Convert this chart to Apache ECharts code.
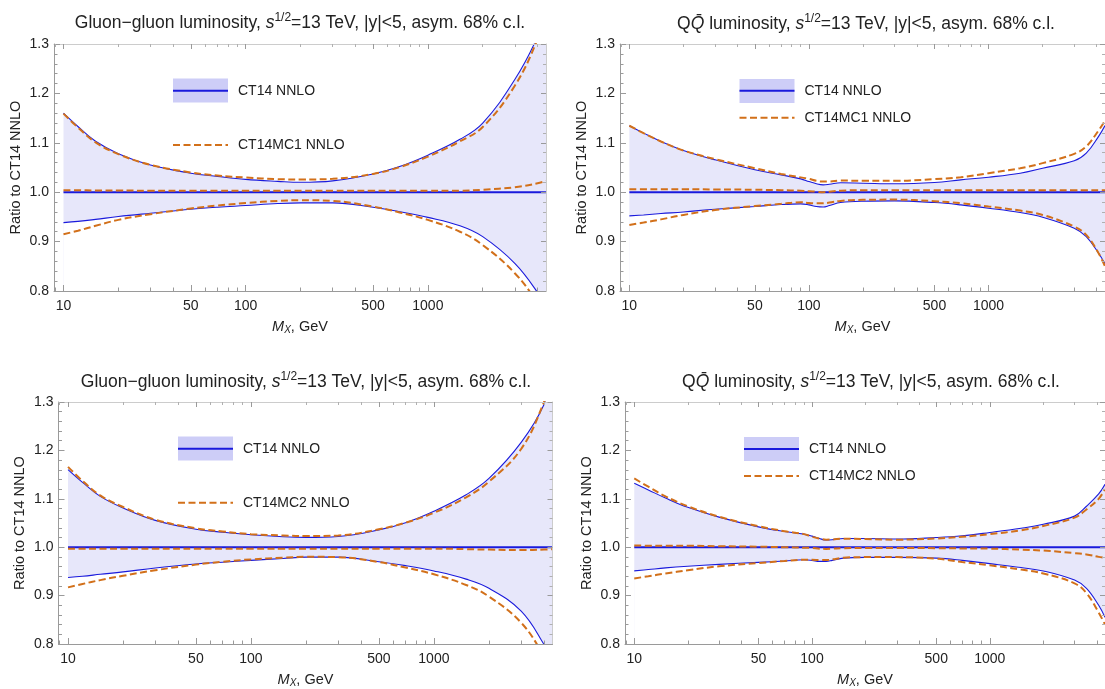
<!DOCTYPE html>
<html><head><meta charset="utf-8">
<script src="https://cdn.jsdelivr.net/npm/echarts@6/dist/echarts.min.js"></script>
<style>html,body{margin:0;padding:0;background:#fff}#c{width:1105px;height:689px}</style>
</head><body><div id="c"></div>
<script>
// ---------------- DATA ----------------
const massGG = [10,12,15,20,30,50,70,100,150,200,300,500,700,1000,1500,2000,3000,4000,4450];
const massQQ = [10,12,15,20,30,50,70,90,100,110,120,130,150,200,300,500,700,1000,1500,2000,3000,3500,4100,4450];
const massCentral = [10,4450];
const ct14Central = [1.0,1.0];

// Panel 1: gluon-gluon, CT14 vs CT14MC1
const gg1Ct14Upper = [1.160,1.133,1.103,1.078,1.055,1.0385,1.032,1.026,1.022,1.020,1.023,1.037,1.052,1.075,1.107,1.140,1.228,1.315,1.37];
const gg1Ct14Lower = [0.9385,0.941,0.945,0.9507,0.9574,0.9655,0.9696,0.973,0.977,0.9784,0.9784,0.9696,0.9605,0.949,0.932,0.910,0.856,0.797,0.765];
const gg1McUpper  = [1.159,1.131,1.101,1.077,1.0554,1.040,1.0338,1.0297,1.0264,1.0257,1.027,1.037,1.0507,1.072,1.103,1.132,1.2155,1.31,1.37];
const gg1McCentral= [1.004,1.004,1.0035,1.0035,1.003,1.003,1.003,1.003,1.003,1.003,1.003,1.003,1.003,1.003,1.003,1.005,1.010,1.018,1.023];
const gg1McLower  = [0.915,0.922,0.932,0.944,0.9554,0.967,0.973,0.978,0.9824,0.9838,0.9824,0.971,0.959,0.944,0.920,0.893,0.836,0.775,0.74];

// Panel 2: QQbar, CT14 vs CT14MC1
const qq1Ct14Upper = [1.1345,1.1196,1.1027,1.0845,1.0655,1.0453,1.035,1.027,1.0216,1.017,1.0149,1.016,1.019,1.0182,1.017,1.0196,1.025,1.0304,1.0385,1.0486,1.0635,1.079,1.113,1.135];
const qq1Ct14Lower = [0.952,0.954,0.9568,0.960,0.9655,0.971,0.975,0.9764,0.9743,0.971,0.970,0.973,0.979,0.9818,0.9824,0.979,0.9743,0.9676,0.9588,0.9493,0.927,0.910,0.8764,0.855];
const qq1McUpper  = [1.1345,1.1196,1.1027,1.0845,1.067,1.0486,1.037,1.030,1.027,1.023,1.0216,1.0216,1.0236,1.023,1.023,1.0264,1.0304,1.0385,1.0486,1.0588,1.0777,1.0926,1.125,1.145];
const qq1McCentral= [1.006,1.006,1.006,1.006,1.0055,1.005,1.004,1.003,1.002,1.001,1.000,1.001,1.003,1.004,1.004,1.004,1.004,1.004,1.004,1.004,1.004,1.004,1.004,1.004];
const qq1McLower  = [0.9338,0.9385,0.945,0.954,0.964,0.972,0.9764,0.9797,0.978,0.9775,0.9777,0.979,0.9824,0.9845,0.985,0.9818,0.9777,0.971,0.9628,0.954,0.9304,0.9135,0.8764,0.85];

// Panel 3: gluon-gluon, CT14 vs CT14MC2
const gg2Ct14Upper = [1.1604,1.134,1.105,1.081,1.0554,1.0371,1.031,1.0256,1.0215,1.0202,1.0222,1.0358,1.0507,1.0744,1.1083,1.142,1.2167,1.295,1.36];
const gg2Ct14Lower = [0.9375,0.940,0.944,0.949,0.957,0.9653,0.969,0.9728,0.9768,0.9795,0.9795,0.970,0.962,0.951,0.934,0.915,0.868,0.799,0.765];
const gg2McUpper  = [1.166,1.137,1.107,1.083,1.0568,1.039,1.0324,1.027,1.0243,1.023,1.0243,1.037,1.0507,1.071,1.103,1.1354,1.203,1.30,1.36];
const gg2McCentral= [0.997,0.997,0.997,0.997,0.997,0.997,0.997,0.997,0.997,0.997,0.997,0.997,0.997,0.997,0.996,0.995,0.994,0.995,0.996];
const gg2McLower  = [0.917,0.924,0.932,0.941,0.9524,0.964,0.970,0.9748,0.9782,0.9802,0.9795,0.9694,0.958,0.944,0.922,0.898,0.844,0.775,0.74];

// Panel 4: QQbar, CT14 vs CT14MC2
const qq2Ct14Upper = [1.132,1.1184,1.1015,1.0825,1.0622,1.042,1.0324,1.027,1.0229,1.018,1.0148,1.0155,1.018,1.018,1.0168,1.020,1.0236,1.0304,1.0392,1.0473,1.0642,1.0846,1.11,1.13];
const qq2Ct14Lower = [0.951,0.9538,0.9572,0.9606,0.9646,0.9687,0.9714,0.974,0.9728,0.9707,0.9707,0.9728,0.9775,0.979,0.979,0.9775,0.9728,0.966,0.9579,0.951,0.932,0.915,0.88,0.855];
const qq2McUpper  = [1.142,1.125,1.105,1.0846,1.063,1.0434,1.033,1.027,1.0216,1.018,1.0155,1.016,1.0175,1.0168,1.0155,1.018,1.0216,1.027,1.035,1.0439,1.061,1.078,1.10,1.12];
const qq2McCentral= [1.0033,1.0032,1.003,1.003,1.002,1.001,1.000,0.999,0.9985,0.997,0.9965,0.997,0.998,0.9985,0.9986,0.998,0.9975,0.997,0.995,0.993,0.9878,0.985,0.98,0.978];
const qq2McLower  = [0.9355,0.940,0.9457,0.9524,0.9606,0.9673,0.9714,0.974,0.974,0.9735,0.9734,0.9748,0.9782,0.9795,0.9795,0.9762,0.9694,0.9626,0.9538,0.9457,0.9254,0.905,0.865,0.84];

const xMajorTicks = [10,50,100,500,1000];
const xTickLabels = ['10','50','100','500','1000'];
const xMinorTicks = [9,20,30,40,60,70,80,90,200,300,400,600,700,800,900,2000,3000,4000];
const yTickLabels = ['0.8','0.9','1.0','1.1','1.2','1.3'];

// ---------------- STYLE / LAYOUT ----------------
const FONT = 'Liberation Sans, Arial, sans-serif';
const BLUE = '#1a1adc';
const ORANGE = '#d2701a';
const BAND = '#e7e7fa';
const LEGBAND = '#cdcdf7';
const AXIS = '#9a9a9a';
const FRAME2 = '#cccccc';
const TXT = '#222';
const DASH = [7,3.5];
const X_MIN = Math.log10(8.87), X_MAX = Math.log10(4450);

const panels = [
  {grid:{left:54, top:44, width:492, height:247}, mass:massGG, up:gg1Ct14Upper, lo:gg1Ct14Lower, mu:gg1McUpper, mc:gg1McCentral, ml:gg1McLower,
   kind:'gg', mcName:'CT14MC1 NNLO', title:{x:300,y:24}, leg:{x:173,y1:90.7,y2:145,rt:78.5,rh:24}},
  {grid:{left:620, top:44, width:494, height:247}, mass:massQQ, up:qq1Ct14Upper, lo:qq1Ct14Lower, mu:qq1McUpper, mc:qq1McCentral, ml:qq1McLower,
   kind:'qq', mcName:'CT14MC1 NNLO', title:{x:866,y:25}, leg:{x:739.5,y1:90.7,y2:117.7,rt:79,rh:24}},
  {grid:{left:58.5, top:402, width:494, height:246}, mass:massGG, up:gg2Ct14Upper, lo:gg2Ct14Lower, mu:gg2McUpper, mc:gg2McCentral, ml:gg2McLower,
   kind:'gg', mcName:'CT14MC2 NNLO', title:{x:306,y:383}, leg:{x:178,y1:448.7,y2:502.7,rt:436.5,rh:24}},
  {grid:{left:625, top:402, width:494, height:246}, mass:massQQ, up:qq2Ct14Upper, lo:qq2Ct14Lower, mu:qq2McUpper, mc:qq2McCentral, ml:qq2McLower,
   kind:'qq', mcName:'CT14MC2 NNLO', title:{x:871,y:383}, leg:{x:744,y1:449,y2:476,rt:437,rh:24}}
];

const TFS = 17.5;
const titleRich = {
  i:{fontStyle:'italic', fontSize:TFS, fontFamily:FONT, color:TXT},
  sup:{fontSize:12, fontFamily:FONT, color:TXT, padding:[0,0,10,0]},
  n:{fontSize:TFS, fontFamily:FONT, color:TXT}
};
const titleText = {
  gg:'{n|Gluon\u2212gluon luminosity, }{i|s}{sup|1/2}{n|=13 TeV, |y|<5, asym. 68% c.l.}',
  qq:'{n|Q}{i|Q\u0304}{n| luminosity, }{i|s}{sup|1/2}{n|=13 TeV, |y|<5, asym. 68% c.l.}'
};

const grids = [], xAxes = [], yAxes = [], series = [], titles = [], graphics = [];
const lg = v => Math.log10(v);
const pts = (m, arr) => m.map((x,i)=>[lg(x), arr[i]]);

panels.forEach((p, gi) => {
  grids.push(Object.assign({containLabel:false}, p.grid));
  const xb = xAxes.length;
  const baseX = {type:'value', gridIndex:gi, min:X_MIN, max:X_MAX, splitLine:{show:false}, z:5};
  xAxes.push(Object.assign({}, baseX, {position:'bottom',
    axisLine:{onZero:false, lineStyle:{color:AXIS, width:1}},
    axisTick:{inside:true, length:6, lineStyle:{color:AXIS}, customValues:xMajorTicks.map(lg)},
    axisLabel:{customValues:xMajorTicks.map(lg), color:TXT, fontSize:14, fontFamily:FONT, margin:8,
      formatter:v=>{const k = xMajorTicks.findIndex(t=>Math.abs(lg(t)-v)<1e-6); return k>=0?xTickLabels[k]:'';}},
    name:'{i|M}{sub|X}{n|, GeV}', nameLocation:'middle', nameGap:27,
    nameTextStyle:{rich:{i:{fontStyle:'italic',fontSize:14.5,fontFamily:FONT,color:TXT},
      sub:{fontStyle:'italic',fontSize:10,fontFamily:FONT,color:TXT,padding:[7,0,0,0]},
      n:{fontSize:14.5,fontFamily:FONT,color:TXT}}}
  }));
  xAxes.push(Object.assign({}, baseX, {position:'bottom', axisLine:{show:false},
    axisTick:{inside:true, length:3.5, lineStyle:{color:AXIS}, customValues:xMinorTicks.map(lg)}, axisLabel:{show:false}}));
  xAxes.push(Object.assign({}, baseX, {position:'top', axisLine:{onZero:false, lineStyle:{color:FRAME2}},
    axisTick:{inside:true, length:5, lineStyle:{color:AXIS}, customValues:xMajorTicks.map(lg)}, axisLabel:{show:false}}));
  xAxes.push(Object.assign({}, baseX, {position:'top', axisLine:{show:false},
    axisTick:{inside:true, length:3, lineStyle:{color:'#b0b0b0'}, customValues:xMinorTicks.map(lg)}, axisLabel:{show:false}}));

  const yb = yAxes.length;
  const baseY = {type:'value', gridIndex:gi, min:0.8, max:1.3, interval:0.1, splitLine:{show:false}, z:5};
  yAxes.push(Object.assign({}, baseY, {position:'left',
    axisLine:{onZero:false, lineStyle:{color:AXIS}},
    axisTick:{inside:true, length:6, lineStyle:{color:AXIS}},
    minorTick:{show:true, splitNumber:5, length:3.5, lineStyle:{color:AXIS}},
    axisLabel:{color:TXT, fontSize:14, fontFamily:FONT, margin:5,
      formatter:v=>yTickLabels[Math.round((v-0.8)*10)]},
    name:'Ratio to CT14 NNLO', nameLocation:'middle', nameGap:31, nameRotate:90,
    nameTextStyle:{fontSize:14.5, fontFamily:FONT, color:TXT}
  }));
  yAxes.push(Object.assign({}, baseY, {position:'right',
    axisLine:{onZero:false, lineStyle:{color:FRAME2}},
    axisTick:{inside:true, length:5, lineStyle:{color:AXIS}},
    minorTick:{show:true, splitNumber:5, length:3, lineStyle:{color:'#b0b0b0'}},
    axisLabel:{show:false}}));

  const common = {type:'line', xAxisIndex:xb, yAxisIndex:yb, showSymbol:false, symbol:'none', smooth:0.4, silent:true, animation:false, clip:true};
  // band: fill under the upper edge, then white under the lower edge
  series.push(Object.assign({}, common, {data:pts(p.mass,p.up), z:1, lineStyle:{width:0, opacity:0},
    areaStyle:{color:BAND, opacity:1, origin:'start'}}));
  series.push(Object.assign({}, common, {data:pts(p.mass,p.lo), z:1, lineStyle:{width:0, opacity:0},
    areaStyle:{color:'#ffffff', opacity:1, origin:'start'}}));
  series.push(Object.assign({}, common, {data:pts(p.mass,p.up), z:2, lineStyle:{color:BLUE, width:1.1}}));
  series.push(Object.assign({}, common, {data:pts(p.mass,p.lo), z:2, lineStyle:{color:BLUE, width:1.1}}));
  series.push(Object.assign({}, common, {data:pts(massCentral,ct14Central), z:2, smooth:false, lineStyle:{color:BLUE, width:2}}));
  [p.mu, p.mc, p.ml].forEach(arr => series.push(Object.assign({}, common,
    {data:pts(p.mass,arr), z:3, lineStyle:{color:ORANGE, width:2, type:DASH}})));

  titles.push({text:titleText[p.kind], left:p.title.x, top:p.title.y-12, textAlign:'center', padding:0,
    textStyle:{rich:titleRich, fontSize:TFS, fontWeight:'normal', color:TXT, fontFamily:FONT}});

  const L = p.leg;
  graphics.push({type:'rect', z:50, shape:{x:L.x, y:L.rt, width:55, height:L.rh}, style:{fill:LEGBAND}});
  graphics.push({type:'line', z:51, shape:{x1:L.x, y1:L.y1, x2:L.x+55, y2:L.y1}, style:{stroke:BLUE, lineWidth:2}});
  graphics.push({type:'text', z:51, x:L.x+65, y:L.y1, style:{text:'CT14 NNLO', fontSize:14, fontFamily:FONT, fill:TXT, verticalAlign:'middle'}});
  graphics.push({type:'line', z:51, shape:{x1:L.x, y1:L.y2, x2:L.x+55, y2:L.y2}, style:{stroke:ORANGE, lineWidth:2, lineDash:DASH}});
  graphics.push({type:'text', z:51, x:L.x+65, y:L.y2, style:{text:p.mcName, fontSize:14, fontFamily:FONT, fill:TXT, verticalAlign:'middle'}});
});

const chart = echarts.init(document.getElementById('c'), null, {renderer:'canvas'});
chart.setOption({
  backgroundColor:'#fff', animation:false,
  title:titles, grid:grids, xAxis:xAxes, yAxis:yAxes, series:series,
  graphic:{elements:graphics}
});
</script></body></html>
